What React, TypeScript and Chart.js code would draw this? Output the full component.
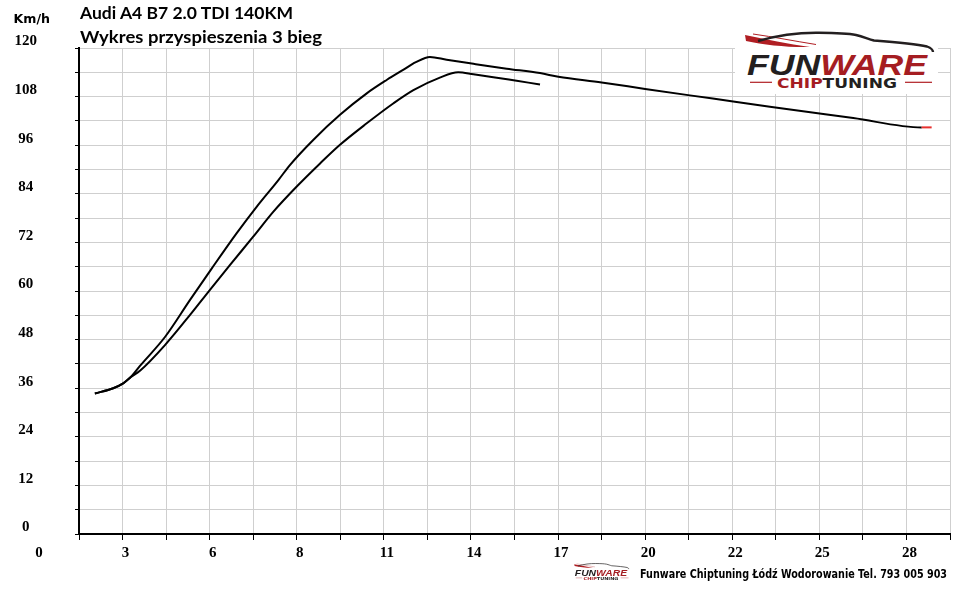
import React, { useEffect, useRef } from "react";
import { Chart, ChartConfiguration, registerables } from "chart.js";

Chart.register(...registerables);

// time [s] and speed [km/h]
const tunedTime = [
  1.91, 2.5, 2.82, 3.07, 3.36, 4.17, 4.97, 5.67, 6.47, 7.11, 7.81, 8.18, 8.93,
  9.79, 10.65, 11.29, 11.82, 12.23, 12.68, 13.22, 14.08, 15.15, 16.22,
  16.81, 18.2, 19.6, 21.04, 22.43, 23.61, 26.29, 28.49, 28.81,
];
const tunedSpeed = [
  34.7, 36.0, 37.2, 38.8, 41.5, 48.7, 57.8, 65.6, 74.3, 80.8, 87.4, 91.1, 97.3,
  103.5, 108.8, 112.1, 114.6, 116.5, 117.8, 117.1, 116.1, 114.9, 113.8,
  112.9, 111.5, 109.9, 108.3, 106.8, 105.5, 102.7, 100.4, 100.4,
];

const stockTime = [
  1.91, 2.5, 2.82, 3.07, 3.36, 4.17, 4.97, 5.61, 6.25, 7.0, 7.65, 8.4, 9.15,
  9.79, 10.65, 11.5, 12.15, 13.0, 13.59, 14.08, 14.72, 15.47, 16.22,
];
const stockSpeed = [
  34.7, 36.0, 37.2, 38.8, 40.3, 46.7, 54.1, 60.3, 66.4, 73.4, 79.6, 85.8, 91.5,
  96.1, 101.4, 106.3, 109.6, 112.7, 114.0, 113.5, 112.8, 111.9, 111.0,
];

// labels on every second grid line
const xTickLabels = ["3", "6", "8", "11", "14", "17", "20", "22", "25", "28"];
const yTickLabels = ["0", "12", "24", "36", "48", "60", "72", "84", "96", "108", "120"];

const axisFont = { family: "'Liberation Serif', 'Times New Roman', serif", size: 15, weight: "bold" as const };

const toPoints = (xs: number[], ys: number[]) => xs.map((x, i) => ({ x, y: ys[i] }));

const Logo: React.FC<{ x: number; y: number; scale: number; bg?: boolean }> = ({ x, y, scale, bg }) => (
  <g transform={`translate(${x} ${y}) scale(${scale})`}>
    {bg && <rect x={-9} y={-6} width={203} height={69} fill="#fff" />}
    <path d="M1 4 C22 8, 44 13, 66 16 C44 16.5, 20 14, 2 10 Z" fill="#b01e23" />
    <path d="M9 3 C30 6, 50 10, 72 13.5" stroke="#b01e23" strokeWidth={1} fill="none" />
    <path
      d="M14 10 C35 4, 55 1.5, 75 1.8 C92 2, 104 2.5, 112 4 C120 6, 124 8, 130 9.5 C150 11, 172 13, 183 15.5 C187 17, 189 19, 189 21"
      stroke="#231f20"
      strokeWidth={2.4}
      fill="none"
    />
    <text
      x={3}
      y={43.7}
      textLength={180}
      lengthAdjust="spacingAndGlyphs"
      fontFamily="'Liberation Sans', Arial, sans-serif"
      fontWeight="bold"
      fontStyle="italic"
      fontSize={30}
    >
      <tspan fill="#231f20">FUN</tspan>
      <tspan fill="#a51d22">WARE</tspan>
    </text>
    <line x1={6} y1={51.3} x2={28} y2={51.3} stroke="#b01e23" strokeWidth={1.2} />
    <line x1={161} y1={51.3} x2={188} y2={51.3} stroke="#b01e23" strokeWidth={1.2} />
    <text
      x={33}
      y={57}
      textLength={120}
      lengthAdjust="spacingAndGlyphs"
      fontFamily="'DejaVu Sans', Verdana, sans-serif"
      fontWeight="bold"
      fontSize={14}
    >
      <tspan fill="#a51d22">CHIP</tspan>
      <tspan fill="#231f20">TUNING</tspan>
    </text>
  </g>
);

const App: React.FC = () => {
  const canvasRef = useRef<HTMLCanvasElement | null>(null);
  const chartRef = useRef<Chart<"line"> | null>(null);

  useEffect(() => {
    const canvas = canvasRef.current;
    if (!canvas) return;
    chartRef.current?.destroy();

    const lastTuned = tunedTime.length - 1;

    const config: ChartConfiguration<"line"> = {
      type: "line",
      data: {
        datasets: [
          {
            label: "Po",
            data: toPoints(tunedTime, tunedSpeed),
            borderColor: "#000",
            borderWidth: 2,
            pointRadius: 0,
            cubicInterpolationMode: "monotone",
            segment: {
              borderColor: (ctx) => (ctx.p1DataIndex === lastTuned ? "#e8312f" : "#000"),
            },
          },
          {
            label: "Przed",
            data: toPoints(stockTime, stockSpeed),
            borderColor: "#000",
            borderWidth: 2,
            pointRadius: 0,
            cubicInterpolationMode: "monotone",
          },
        ],
      },
      options: {
        animation: false,
        responsive: false,
        layout: { padding: { left: 0, top: 48, right: 10, bottom: 0 } },
        plugins: {
          legend: { display: false },
          tooltip: { enabled: false },
        },
        scales: {
          x: {
            type: "linear",
            min: 1.4,
            max: 29.4,
            afterFit: (scale) => {
              scale.height = 65;
            },
            ticks: {
              stepSize: 1.4,
              autoSkip: false,
              maxRotation: 0,
              padding: 4,
              labelOffset: 3,
              color: "#000",
              font: axisFont,
              callback: (_v, i) => (i % 2 === 1 ? xTickLabels[(i - 1) / 2] ?? "" : ""),
            },
            grid: { color: "#cfcfcf", tickColor: "#000", tickLength: 6, lineWidth: 1 },
            border: { color: "#000", width: 2 },
          },
          y: {
            type: "linear",
            min: 0,
            max: 120,
            afterFit: (scale) => {
              scale.width = 79;
            },
            ticks: {
              stepSize: 6,
              autoSkip: false,
              crossAlign: "center",
              padding: 38,
              labelOffset: -6.5,
              color: "#000",
              font: axisFont,
              callback: (_v, i) => (i % 2 === 0 ? yTickLabels[i / 2] ?? "" : ""),
            },
            grid: { color: "#cfcfcf", tickColor: "#000", tickLength: 4, lineWidth: 1 },
            border: { color: "#000", width: 2 },
          },
        },
      },
    };

    chartRef.current = new Chart(canvas, config);
    return () => {
      chartRef.current?.destroy();
      chartRef.current = null;
    };
  }, []);

  const titleFont = "Lato, 'Open Sans', sans-serif";

  return (
    <div style={{ position: "fixed", left: 0, top: 0, width: 960, height: 599, background: "#fff" }}>
      <canvas
        ref={canvasRef}
        width={960}
        height={599}
        style={{ position: "absolute", left: 0, top: 0, width: 960, height: 599 }}
      />
      <svg
        width={960}
        height={599}
        style={{ position: "absolute", left: 0, top: 0, pointerEvents: "none" }}
      >
        <text x={80} y={19.3} textLength={213} lengthAdjust="spacingAndGlyphs" fontFamily={titleFont} fontWeight="bold" fontSize={17}>
          Audi A4 B7 2.0 TDI 140KM
        </text>
        <text x={80} y={43.3} textLength={242} lengthAdjust="spacingAndGlyphs" fontFamily={titleFont} fontWeight="bold" fontSize={17}>
          Wykres przyspieszenia 3 bieg
        </text>
        <text x={13.5} y={22.7} textLength={36.5} lengthAdjust="spacingAndGlyphs" fontFamily="'DejaVu Sans', Verdana, sans-serif" fontWeight="bold" fontSize={13}>
          Km/h
        </text>
        <text x={39} y={557.3} textAnchor="middle" fontFamily="'Liberation Serif', serif" fontWeight="bold" fontSize={15}>
          0
        </text>
        <Logo x={744} y={31} scale={1} bg />
        <Logo x={574} y={563} scale={0.29} />
        <text x={640} y={578.3} textLength={307} lengthAdjust="spacingAndGlyphs" fontFamily="'DejaVu Sans', Verdana, sans-serif" fontWeight="bold" fontSize={12}>
          Funware Chiptuning Łódź Wodorowanie Tel. 793 005 903
        </text>
      </svg>
    </div>
  );
};

export default App;
